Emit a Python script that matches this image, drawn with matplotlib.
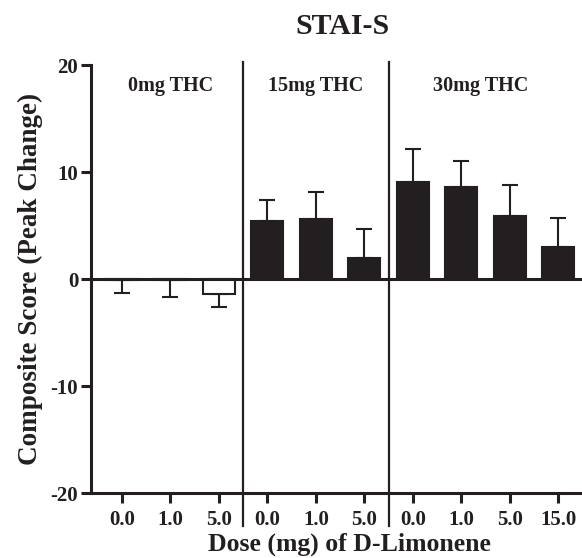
import numpy as np
import matplotlib
matplotlib.use("Agg")
import matplotlib.pyplot as plt

plt.rcParams['font.family'] = ['Liberation Serif', 'DejaVu Serif']
plt.rcParams['font.weight'] = 'bold'

# data
groups = ["0mg THC", "15mg THC", "30mg THC"]
dose_labels = ["0.0", "1.0", "5.0", "0.0", "1.0", "5.0", "0.0", "1.0", "5.0", "15.0"]
group_of_bar = [0, 0, 0, 1, 1, 1, 2, 2, 2, 2]
means = [-0.05, -0.05, -1.4, 5.4, 5.6, 2.0, 9.1, 8.6, 5.9, 3.0]
sem = [1.2, 1.65, 1.2, 1.95, 2.5, 2.7, 3.05, 2.45, 2.85, 2.75]

x = np.arange(len(means))
colors = ["white" if g == 0 else "#231f20" for g in group_of_bar]

fig = plt.figure(figsize=(5.82, 5.58), dpi=100)
ax = fig.add_axes([0.1558, 0.116, 0.8442, 0.7675])

# error bars only on the side away from zero
lower = [s if m < 0 else 0 for m, s in zip(means, sem)]
upper = [s if m >= 0 else 0 for m, s in zip(means, sem)]
# the 0mg group draws the cap below
lower[0], lower[1] = sem[0], sem[1]
upper[0], upper[1] = 0, 0

ax.bar(x, means, width=0.66, color=colors, edgecolor="#231f20", linewidth=1.5, zorder=3)
ax.errorbar(x, means, yerr=[lower, upper], fmt="none", ecolor="#231f20",
            elinewidth=1.5, capsize=5.5, capthick=1.5, zorder=2)

ax.axhline(0, color="#231f20", linewidth=2.2, zorder=4)
for d in [2.5, 5.5]:
    ax.plot([d, d], [20.3, -23.1], color="#231f20", linewidth=1.6, clip_on=False, zorder=4)

ax.set_xlim(-0.645, 9.49)
ax.set_ylim(-20, 20)
ax.set_yticks([-20, -10, 0, 10, 20])
ax.set_yticklabels(["-20", "-10", "0", "10", "20"])
ax.set_xticks(x)
ax.set_xticklabels(dose_labels)

for sp in ["top", "right"]:
    ax.spines[sp].set_visible(False)
for sp in ["left", "bottom"]:
    ax.spines[sp].set_linewidth(2.2)
    ax.spines[sp].set_color("#231f20")
ax.tick_params(axis="both", direction="out", length=7, width=2.2, color="#231f20",
               labelsize=15, labelcolor="#231f20", pad=2)
ax.tick_params(axis="x", pad=5)
for lab in ax.get_xticklabels() + ax.get_yticklabels():
    lab.set_fontweight("bold")

group_centers = [1.0, 4.0, 7.4]
for g, c in zip(groups, group_centers):
    ax.text(c, 18.0, g, ha="center", va="center", fontsize=14.5, fontweight="bold", color="#231f20")

fig.text(0.588, 0.953, "STAI-S", ha="center", va="center", fontsize=21.5, fontweight="bold", color="#231f20")
fig.text(0.601, 0.025, "Dose (mg) of D-Limonene", ha="center", va="center", fontsize=18.5, fontweight="bold", color="#231f20")
fig.text(0.052, 0.5, "Composite Score (Peak Change)", ha="center", va="center", rotation=90,
         fontsize=19.5, fontweight="bold", color="#231f20")

fig.savefig("out.png", dpi=100)
